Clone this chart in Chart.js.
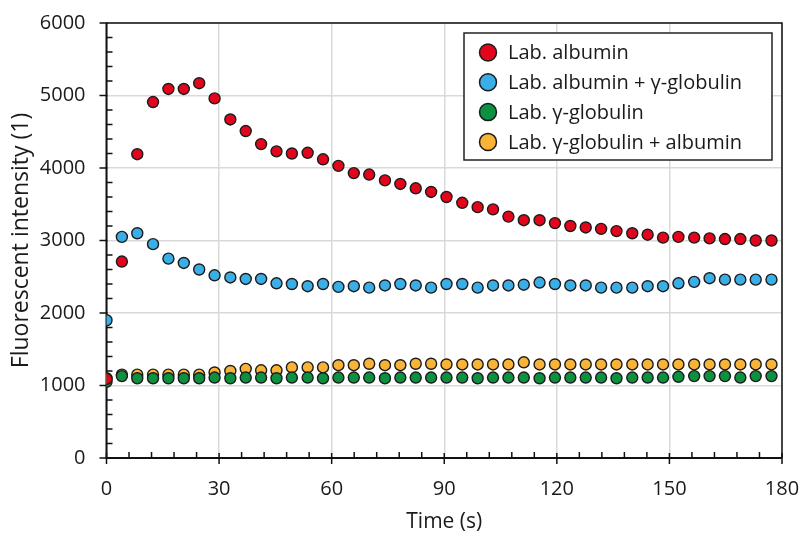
<!DOCTYPE html>
<html>
<head>
<meta charset="utf-8">
<script src="https://cdn.jsdelivr.net/npm/chart.js@4.4.1/dist/chart.umd.min.js"></script>
<style>
  html, body { margin: 0; padding: 0; background: #fff; }
  #wrap { width: 802px; height: 535px; }
</style>
</head>
<body>
<div id="wrap"><canvas id="c" width="802" height="535"></canvas></div>
<script>
// ---- data ----
const times = [0, 4.1, 8.2, 12.4, 16.5, 20.6, 24.7, 28.8, 33.0, 37.1, 41.2, 45.3, 49.4, 53.6, 57.7, 61.8, 65.9, 70.0, 74.2, 78.3, 82.4, 86.5, 90.6, 94.8, 98.9, 103.0, 107.1, 111.2, 115.4, 119.5, 123.6, 127.7, 131.8, 135.9, 140.1, 144.2, 148.3, 152.4, 156.6, 160.7, 164.8, 168.9, 173.0, 177.2];
const albumin = [1090, 2710, 4190, 4910, 5090, 5090, 5170, 4960, 4670, 4510, 4330, 4230, 4200, 4210, 4120, 4030, 3930, 3910, 3830, 3780, 3720, 3670, 3600, 3520, 3460, 3430, 3330, 3280, 3280, 3240, 3200, 3180, 3160, 3130, 3100, 3080, 3040, 3050, 3040, 3030, 3020, 3020, 3000, 3000];
const albuminGlob = [1900, 3050, 3100, 2950, 2750, 2690, 2600, 2520, 2490, 2470, 2470, 2410, 2400, 2370, 2400, 2360, 2370, 2350, 2380, 2400, 2380, 2350, 2400, 2400, 2350, 2380, 2380, 2390, 2420, 2400, 2380, 2380, 2350, 2350, 2350, 2370, 2370, 2410, 2430, 2480, 2460, 2460, 2460, 2460];
const globulin = [1050, 1130, 1100, 1100, 1100, 1100, 1100, 1110, 1100, 1110, 1110, 1100, 1110, 1110, 1100, 1110, 1110, 1110, 1100, 1110, 1110, 1110, 1110, 1110, 1100, 1110, 1110, 1110, 1100, 1110, 1110, 1110, 1110, 1100, 1110, 1110, 1110, 1120, 1130, 1130, 1130, 1110, 1130, 1130];
const globulinAlb = [1100, 1150, 1150, 1150, 1150, 1150, 1150, 1180, 1200, 1230, 1210, 1210, 1250, 1250, 1250, 1280, 1280, 1300, 1280, 1280, 1300, 1300, 1290, 1290, 1290, 1290, 1290, 1320, 1290, 1290, 1290, 1290, 1290, 1290, 1290, 1290, 1290, 1290, 1290, 1290, 1290, 1290, 1290, 1290];
const seriesLabels = ['Lab. albumin', 'Lab. albumin + \u03b3-globulin', 'Lab. \u03b3-globulin', 'Lab. \u03b3-globulin + albumin'];
const seriesColors = ['#e3051b', '#3aaee6', '#0c9140', '#f9b336'];
const xTitle = 'Time (s)';
const yTitle = 'Fluorescent intensity (1)';

const FONT = '"Open Sans", "DejaVu Sans", sans-serif';
const TEXT = '#1a1a1a';

function pts(vals) { return vals.map((v, i) => ({ x: times[i], y: v })); }
const seriesValues = [albumin, albuminGlob, globulin, globulinAlb];

const datasets = seriesValues.map((vals, k) => ({
  label: seriesLabels[k],
  data: pts(vals),
  showLine: false,
  pointRadius: 5.5,
  pointHoverRadius: 5.5,
  pointBorderWidth: 1.4,
  pointBorderColor: '#1c1c1c',
  pointBackgroundColor: seriesColors[k],
  backgroundColor: seriesColors[k],
  borderColor: '#1c1c1c'
}));

const framePlugin = {
  id: 'frame',
  beforeDatasetsDraw(chart) {
    const ctx = chart.ctx, a = chart.chartArea;
    const xs = chart.scales.x, ys = chart.scales.y;
    ctx.save();
    ctx.strokeStyle = '#111';
    ctx.lineWidth = 1.5;
    ctx.beginPath();
    ctx.moveTo(a.left, a.top); ctx.lineTo(a.right, a.top); ctx.lineTo(a.right, a.bottom);
    ctx.stroke();
    ctx.lineWidth = 2;
    ctx.beginPath();
    ctx.moveTo(a.left, a.top); ctx.lineTo(a.left, a.bottom); ctx.lineTo(a.right, a.bottom);
    ctx.stroke();
    ctx.lineWidth = 1.5;
    ctx.beginPath();
    for (let v = 0; v <= 6000; v += 200) {
      const y = ys.getPixelForValue(v);
      if (v % 1000 === 0) { ctx.moveTo(a.left - 7, y); ctx.lineTo(a.left + 1, y); }
      else { ctx.moveTo(a.left, y); ctx.lineTo(a.left + 6, y); }
    }
    for (let t = 0; t <= 180; t += 6) {
      const x = xs.getPixelForValue(t);
      if (t % 30 === 0) { ctx.moveTo(x, a.bottom - 5); ctx.lineTo(x, a.bottom + 6); }
      else { ctx.moveTo(x, a.bottom); ctx.lineTo(x, a.bottom - 6); }
    }
    ctx.stroke();
    ctx.restore();
  },
  afterDraw(chart) {
    const ctx = chart.ctx;
    const bx = 464, by = 33, bw = 308, bh = 127;
    ctx.save();
    ctx.fillStyle = '#fff';
    ctx.fillRect(bx, by, bw, bh);
    ctx.strokeStyle = '#222';
    ctx.lineWidth = 1.5;
    ctx.strokeRect(bx, by, bw, bh);
    ctx.font = '20px ' + FONT;
    ctx.textBaseline = 'middle';
    chart.data.datasets.forEach((ds, i) => {
      const cy = by + 19.5 + i * 29.8;
      ctx.beginPath();
      ctx.arc(bx + 24, cy, 8.5, 0, Math.PI * 2);
      ctx.fillStyle = ds.pointBackgroundColor;
      ctx.fill();
      ctx.lineWidth = 1.5;
      ctx.strokeStyle = '#1c1c1c';
      ctx.stroke();
      ctx.fillStyle = TEXT;
      ctx.fillText(ds.label, bx + 44, cy + 1);
    });
    ctx.restore();
  }
};

new Chart(document.getElementById('c'), {
  type: 'scatter',
  data: { datasets },
  options: {
    responsive: false,
    animation: false,
    events: [],
    layout: { padding: { left: 0, top: 23, right: 20, bottom: 0 } },
    plugins: { legend: { display: false }, tooltip: { enabled: false } },
    scales: {
      x: {
        type: 'linear', min: 0, max: 180,
        afterFit: s => { s.height = 77; s.paddingRight = 0; s.paddingLeft = 0; },
        ticks: { stepSize: 30, color: TEXT, font: { family: FONT, size: 20 }, padding: 19, maxRotation: 0, callback: v => String(v) },
        grid: { color: '#d9d9d9', lineWidth: 1.5, drawTicks: false },
        border: { display: false },
        title: { display: true, text: xTitle, color: TEXT, font: { family: FONT, size: 21 }, padding: { top: 0, bottom: 0 } }
      },
      y: {
        type: 'linear', min: 0, max: 6000,
        afterFit: s => { s.width = 106.5; s.paddingTop = 0; s.paddingBottom = 0; },
        ticks: { stepSize: 1000, color: TEXT, font: { family: FONT, size: 20 }, padding: 21, callback: v => String(v) },
        grid: { color: '#d9d9d9', lineWidth: 1.5, drawTicks: false },
        border: { display: false },
        title: { display: true, text: yTitle, color: TEXT, font: { family: FONT, size: 23 }, padding: { top: 8, bottom: 0 } }
      }
    }
  },
  plugins: [framePlugin]
});
</script>
</body>
</html>
